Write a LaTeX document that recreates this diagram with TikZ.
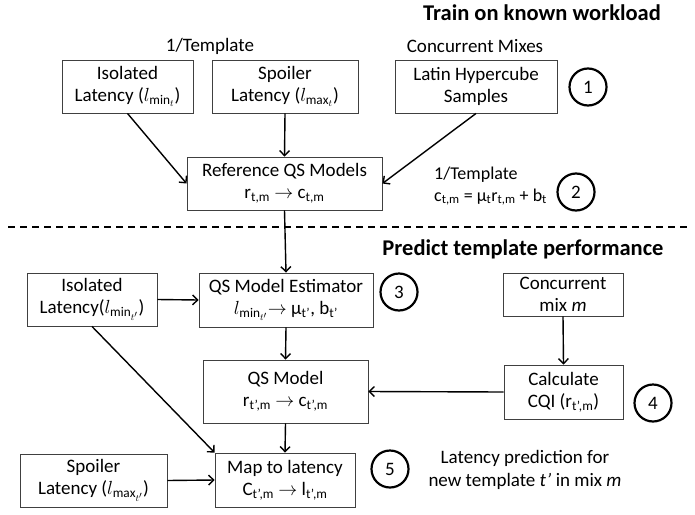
\documentclass[tikz,border=0pt]{standalone}
\usepackage{fix-cm}
\usepackage{fontspec}
\setmainfont{Carlito}
\usetikzlibrary{arrows.meta}
\newcommand{\tsub}[1]{\textsubscript{#1}}
\begin{document}
\begin{tikzpicture}[x=1pt,y=-1pt,
  box/.style={draw=black!75,line width=0.9pt,rectangle,inner sep=0pt,align=center,
    font=\fontsize{19}{22}\selectfont},
  txt/.style={inner sep=0pt,align=center,font=\fontsize{19}{23}\selectfont},
  head/.style={inner sep=0pt,font=\fontsize{22.5}{26}\selectfont\bfseries},
  num/.style={draw=black,line width=2.2pt,circle,minimum size=37pt,inner sep=0pt,
    font=\fontsize{19}{22}\selectfont},
  arr/.style={line width=1.4pt,-{Straight Barb[length=5pt,width=10pt,line width=1.4pt]}}
]
\useasboundingbox (0,0) rectangle (695,514);

\node[head] (h1) at (542,13) {Train on known workload};
\node[txt] (t1) at (210,46) {1/Template};
\node[txt] (t2) at (475,46) {Concurrent Mixes};

\node[box,minimum width=131pt,minimum height=53pt] (isoA) at (127.5,86.5)
  {Isolated\\Latency ($l_{\min_t}$)};
\node[box,minimum width=146pt,minimum height=53pt] (spoA) at (285,86.5)
  {Spoiler\\Latency ($l_{\max_t}$)};
\node[box,minimum width=162pt,minimum height=53pt] (lhs) at (476,86.5)
  {Latin Hypercube\\Samples};
\node[num] (c1) at (588,87) {1};

\node[box,minimum width=195pt,minimum height=53pt] (ref) at (284.5,183.5)
  {Reference QS Models\\r\tsub{t,m} $\rightarrow$ c\tsub{t,m}};
\node[txt,align=left,anchor=west,font=\fontsize{18}{22}\selectfont] (t3) at (434,186)
  {1/Template\\c\tsub{t,m} = μ\tsub{t}r\tsub{t,m} + b\tsub{t}};
\node[num] (c2) at (576,192) {2};

\draw[arr] (isoA.south) -- (ref.west);
\draw[arr] (spoA.south) -- (ref.north);
\draw[arr] (lhs.south) -- (ref.east);

\coordinate (dl) at (8,227);
\coordinate (dr) at (690,227);
\draw[line width=1.8pt,dash pattern=on 7pt off 5pt] (dl) -- (dr);

\node[head] (h2) at (523,249) {Predict template performance};

\node[box,minimum width=130pt,minimum height=53pt] (isoB) at (92,299.5)
  {Isolated\\Latency($l_{\min_{t'}}$)};
\node[box,minimum width=174pt,minimum height=54pt] (est) at (286,300)
  {QS Model Estimator\\$l_{\min_{t'}}$$\rightarrow$ μ\tsub{t’}, b\tsub{t’}};
\node[num] (c3) at (399,292) {3};
\node[box,minimum width=120pt,minimum height=43pt] (conc) at (563,294.5)
  {Concurrent\\mix \textit{m}};

\node[box,minimum width=165pt,minimum height=63pt] (qsm) at (285.5,391.5)
  {QS Model\\r\tsub{t’,m} $\rightarrow$ c\tsub{t’,m}};
\node[box,minimum width=119pt,minimum height=54pt] (cqi) at (563.5,392)
  {Calculate\\CQI (r\tsub{t’,m})};
\node[num] (c4) at (653,403) {4};

\node[box,minimum width=147pt,minimum height=53pt] (spoB) at (93.5,480.5)
  {Spoiler\\Latency ($l_{\max_{t'}}$)};
\node[box,minimum width=140pt,minimum height=54pt] (map) at (285,480)
  {Map to latency\\C\tsub{t’,m} $\rightarrow$ l\tsub{t’,m}};
\node[num] (c5) at (390,469) {5};
\node[txt] (t4) at (525,470) {Latency prediction for\\new template \textit{t’} in mix \textit{m}};

\draw[arr] (ref.south) -- (est.north);
\draw[arr] (isoB.east) -- (est.west);
\draw[arr] (est.south) -- (qsm.north);
\draw[arr] (conc.south) -- (cqi.north);
\draw[arr] (cqi.west) -- (qsm.east);
\draw[arr] (qsm.south) -- (map.north);
\draw[arr] (isoB.south) -- (map.north west);
\draw[arr] (spoB.east) -- (map.west);
\end{tikzpicture}
\end{document}
